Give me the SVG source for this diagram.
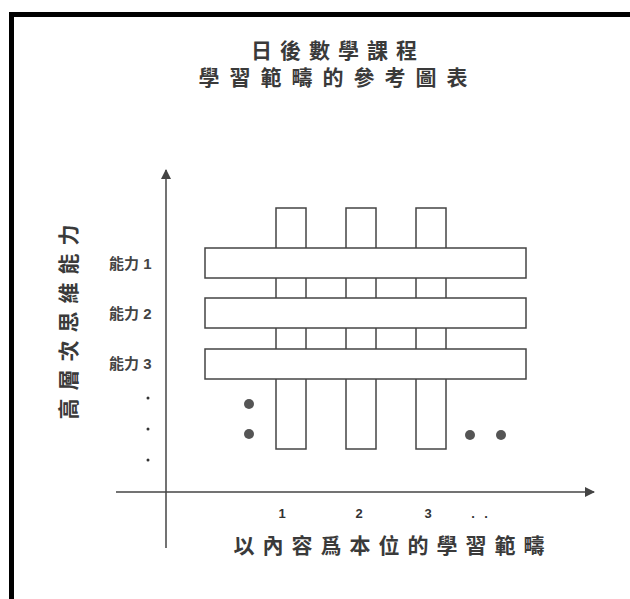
<svg xmlns="http://www.w3.org/2000/svg" width="630" height="599" viewBox="0 0 630 599">
<style>
.frame{stroke:#000;stroke-width:5;fill:none}
.box{fill:#fff;stroke:#444;stroke-width:1.5}
.axis{stroke:#444;stroke-width:1.5;fill:none}
.t{font-family:"Liberation Sans","Noto Sans CJK TC",sans-serif;fill:#3a3a3a}
.title{font-size:21px;letter-spacing:8px;text-anchor:middle;font-weight:bold}
.lab{font-size:15px;font-weight:bold;fill:#444}
.num{font-size:13px;font-weight:bold;fill:#333;text-anchor:middle}
.dot{fill:#555}
.sdot{fill:#333}
</style>
<defs>
<marker id="arr" markerWidth="10" markerHeight="10" refX="9" refY="5" orient="auto" markerUnits="userSpaceOnUse">
<path d="M0,0 L10,5 L0,10 Z" fill="#444"/>
</marker>
</defs>
<rect width="630" height="599" fill="#fff"/>
<path class="frame" d="M11.5,599 V14.5 H630"/>
<g id="title">
<text class="t title" x="338" y="58">日後數學課程</text>
<text class="t title" x="338" y="85" style="letter-spacing:10px">學習範疇的參考圖表</text>
</g>
<g id="connectors">
<line class="axis" x1="166" y1="548" x2="166" y2="170" marker-end="url(#arr)"/>
<line class="axis" x1="116" y1="492" x2="594" y2="492" marker-end="url(#arr)"/>
</g>
<g id="col1"><rect class="box" x="276" y="208" width="30" height="241"/></g>
<g id="col2"><rect class="box" x="346" y="208" width="30" height="241"/></g>
<g id="col3"><rect class="box" x="416" y="208" width="30" height="241"/></g>
<g id="row1"><rect class="box" x="205" y="248" width="321" height="30"/></g>
<g id="row2"><rect class="box" x="205" y="298" width="321" height="30"/></g>
<g id="row3"><rect class="box" x="205" y="349" width="321" height="30"/></g>
<g id="ylabels">
<text class="t lab" x="109" y="269">能力 1</text>
<text class="t lab" x="109" y="319">能力 2</text>
<text class="t lab" x="109" y="369">能力 3</text>
<circle class="sdot" cx="148" cy="398" r="1.5"/>
<circle class="sdot" cx="148" cy="429" r="1.5"/>
<circle class="sdot" cx="148" cy="460" r="1.5"/>
</g>
<g id="dots">
<circle class="dot" cx="249" cy="404" r="5"/>
<circle class="dot" cx="249" cy="434" r="5"/>
<circle class="dot" cx="470" cy="435" r="5"/>
<circle class="dot" cx="501" cy="435" r="5"/>
</g>
<g id="xlabels">
<text class="t num" x="282" y="518">1</text>
<text class="t num" x="359" y="518">2</text>
<text class="t num" x="428" y="518">3</text>
<text class="t num" x="473" y="518">.</text>
<text class="t num" x="486" y="518">.</text>
</g>
<g id="xtitle">
<text class="t title" x="393" y="553">以內容爲本位的學習範疇</text>
</g>
<g id="ytitle">
<text class="t title" transform="translate(76,318) rotate(-90)" x="0" y="0">高層次思維能力</text>
</g>
</svg>
